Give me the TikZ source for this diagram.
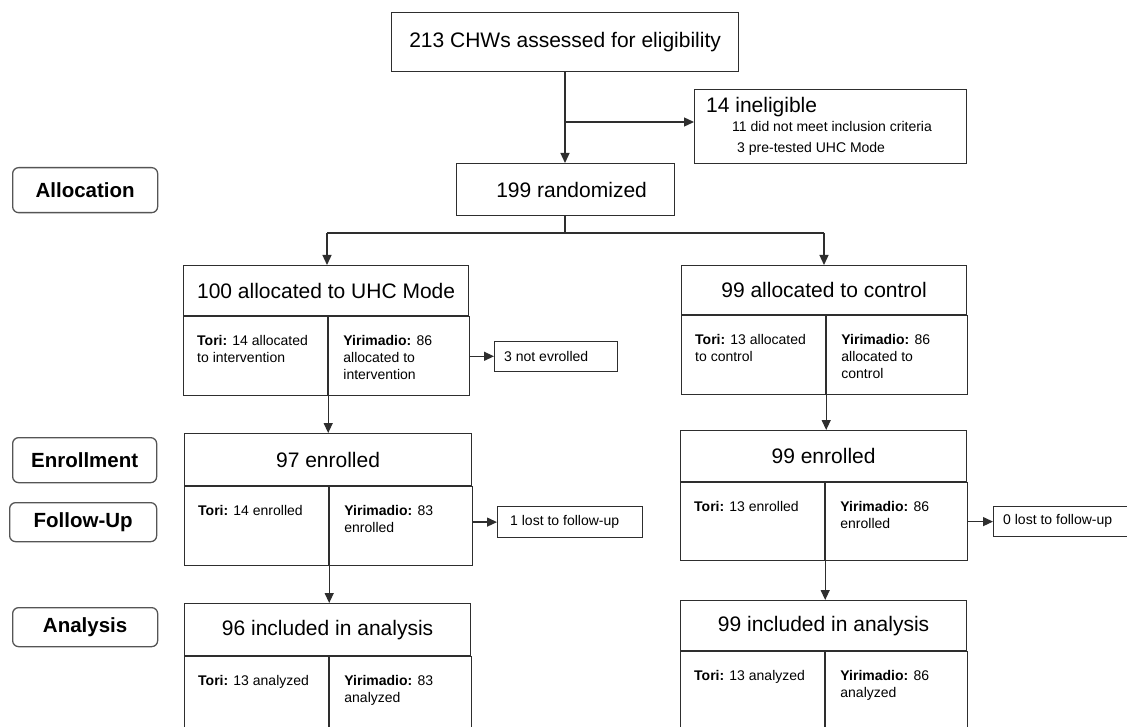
\documentclass[tikz,border=0pt]{standalone}
\usepackage{fontspec}
\setmainfont{Liberation Sans}
\usetikzlibrary{arrows.meta}
\definecolor{linec}{HTML}{2E2E2E}
\definecolor{sidec}{HTML}{555555}
\tikzset{
  box/.style={draw=linec, line width=1.2pt, inner sep=0pt, fill=white, anchor=north west},
  hdr/.style={font=\fontsize{21}{25}\selectfont},
  cell/.style={anchor=north west, inner sep=0pt, align=left, font=\fontsize{14}{17}\selectfont},
  small/.style={anchor=base west, inner sep=0pt, font=\fontsize{14}{17}\selectfont},
  sidebox/.style={draw=sidec, line width=1.3pt, rounded corners=6pt, anchor=north west, inner sep=0pt,
     font=\bfseries\fontsize{20.5}{24}\selectfont},
  ln/.style={draw=linec, line width=1.3pt},
  arr/.style={ln, -{Triangle[length=10pt,width=9pt]}},
}
% name, x, y, width, header h, body h, header text, left text, right text
\newcommand\splitbox[9]{%
  \node[box, hdr, minimum width=#4pt, minimum height=#5pt] (#1h) at (#2,#3) {#7};
  \node[box, minimum width=144pt, minimum height=#6pt] (#1l) at (#1h.south west) {};
  \node[box, minimum width=#4pt-144pt, minimum height=#6pt] (#1r) at (#1l.north east) {};
  \node[cell] (#1lt) at ([shift={(14,19)}]#1l.north west) {#8};
  \node[cell] (#1rt) at ([shift={(15,19)}]#1r.north west) {#9};
}
\begin{document}
\begin{tikzpicture}[x=1pt,y=-1pt]
\clip (0,0) rectangle (1127,727);
\fill[white] (0,0) rectangle (1127,727);

% top
\node[box, hdr, minimum width=347pt, minimum height=59pt] (top) at (391,12) {213 CHWs assessed for eligibility};
\node[box, minimum width=272pt, minimum height=74pt] (inel) at (694,89) {};
\node[inner sep=0pt, anchor=base west, font=\fontsize{21}{25}\selectfont] (inelt) at (706,113) {14 ineligible};
\node[small] (inel1) at (732,132) {11 did not meet inclusion criteria};
\node[small] (inel2) at (737,153) {3 pre-tested UHC Mode};
\node[box, hdr, minimum width=218pt, minimum height=52pt] (rand) at (456,163) {\hspace{12pt}199 randomized};

% side labels
\node[sidebox, minimum width=145pt, minimum height=45pt] (lalloc) at (12,167) {Allocation};
\node[sidebox, minimum width=144pt, minimum height=45pt] (lenr) at (12,437) {Enrollment};
\node[sidebox, minimum width=147pt, minimum height=39pt] (lfol) at (9,502) {Follow-Up};
\node[sidebox, minimum width=145pt, minimum height=39pt] (lana) at (12,607) {Analysis};

% allocation
\splitbox{uhc}{183}{265}{285}{50}{79}{100 allocated to UHC Mode}{\textbf{Tori:} 14 allocated\\to intervention}{\textbf{Yirimadio:} 86\\allocated to\\intervention}
\splitbox{ctl}{681}{265}{285}{49}{79}{99 allocated to control}{\textbf{Tori:} 13 allocated\\to control}{\textbf{Yirimadio:} 86\\allocated to\\control}

% enrollment
\splitbox{enl}{184}{433}{287}{52}{79}{97 enrolled}{\textbf{Tori:} 14 enrolled}{\textbf{Yirimadio:} 83\\enrolled}
\splitbox{enr}{680}{430}{286}{51}{78}{99 enrolled}{\textbf{Tori:} 13 enrolled}{\textbf{Yirimadio:} 86\\enrolled}

% analysis
\splitbox{anl}{184}{603}{286}{52}{100}{96 included in analysis}{\textbf{Tori:} 13 analyzed}{\textbf{Yirimadio:} 83\\analyzed}
\splitbox{anr}{680}{600}{286}{50}{100}{99 included in analysis}{\textbf{Tori:} 13 analyzed}{\textbf{Yirimadio:} 86\\analyzed}

% side outcome boxes
\node[box, minimum width=123pt, minimum height=30pt] (notenr) at (494,341) {};
\node[small, anchor=west] (notenrt) at (504,356) {3 not evrolled};
\node[box, minimum width=145pt, minimum height=31pt] (lostl) at (497,506) {};
\node[small, anchor=west] (lostlt) at (510,521.5) {1 lost to follow-up};
\node[box, minimum width=140pt, minimum height=30pt] (lostr) at (993,506) {};
\node[small, anchor=west] (lostrt) at (1003,521) {0 lost to follow-up};

% connectors
\coordinate (br) at (565,122);
\draw[arr] (top.south -| br) -- (rand.north -| br);
\draw[arr] (br) -- (br -| inel.west);
\coordinate (sL) at (327,233);
\coordinate (sR) at (824,233);
\draw[ln] (rand.south -| br) -- (br |- sL);
\draw[ln] (sL) -- (sR);
\draw[arr] (sL) -- (sL |- uhch.north);
\draw[arr] (sR) -- (sR |- ctlh.north);
\draw[arr] (uhcl.south east) -- (uhcl.south east |- enlh.north);
\draw[arr] (ctll.south east) -- (ctll.south east |- enrh.north);
\draw[arr] (enll.south east) -- (enll.south east |- anlh.north);
\draw[arr] (enrl.south east) -- (enrl.south east |- anrh.north);
\draw[arr] (uhcr.east) -- (uhcr.east -| notenr.west);
\draw[arr] (enlr.east |- lostl.west) -- (lostl.west);
\draw[arr] (enrr.east |- lostr.west) -- (lostr.west);
\end{tikzpicture}
\end{document}
